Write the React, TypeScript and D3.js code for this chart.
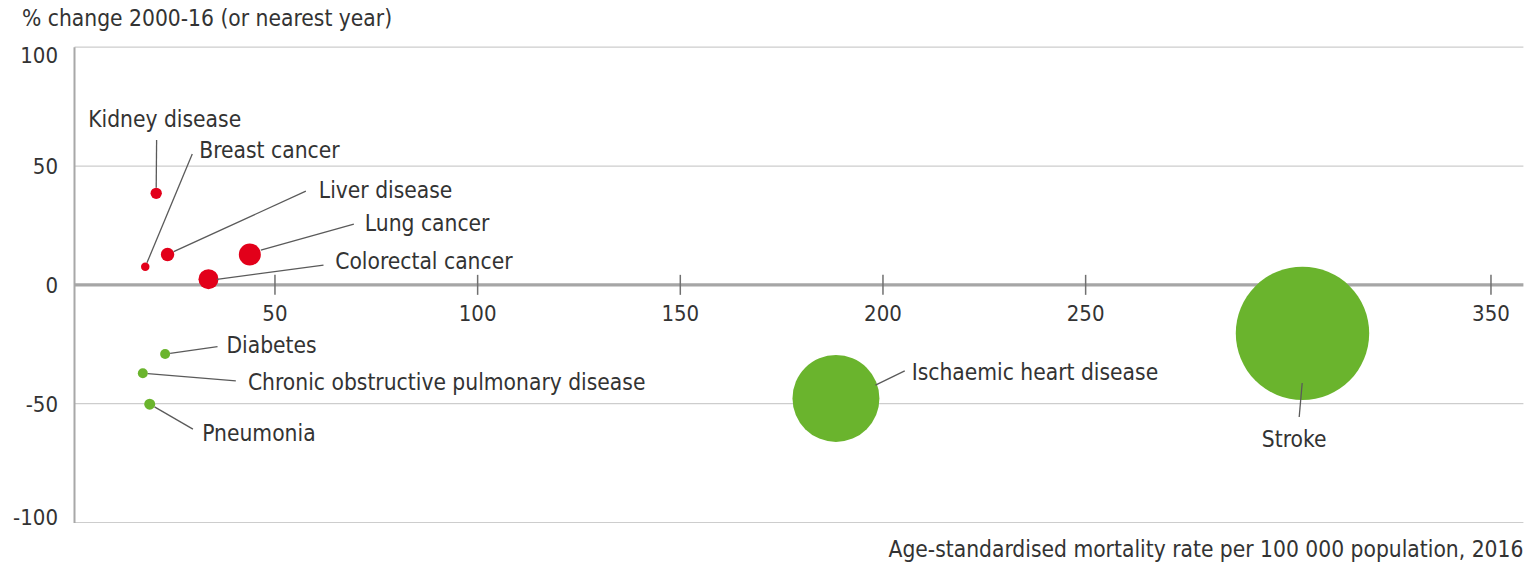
import React from "react";
import * as d3 from "d3";

// ---- Data ----
const causes = [
  "Kidney disease",
  "Breast cancer",
  "Liver disease",
  "Lung cancer",
  "Colorectal cancer",
  "Diabetes",
  "Chronic obstructive pulmonary disease",
  "Pneumonia",
  "Ischaemic heart disease",
  "Stroke",
];
const mortalityRate2016 = [20.7, 18.0, 23.5, 43.8, 33.6, 22.9, 17.4, 19.1, 188.4, 303.5];
const pctChange2000_16 = [38.5, 7.6, 12.8, 12.8, 2.4, -29.1, -37.2, -50.2, -47.8, -20.4];
const bubbleSize = [32, 18, 45, 121, 100, 25, 25, 30, 1890, 4450];
const xTicks = [50, 100, 150, 200, 250, 300, 350];
const yTicks = [100, 50, 0, -50, -100];
const yTitle = "% change 2000-16 (or nearest year)";
const xTitle = "Age-standardised mortality rate per 100 000 population, 2016";

// ---- Layout (annotation placement, px offsets from bubble centre) ----
const annot = [
  { s: [0, -5.7], e: [0.4, -53.3], t: [-68, -66.6], anchor: "start" },
  { s: [1.7, -4], e: [47, -112.7], t: [54, -108.4], anchor: "start" },
  { s: [6.1, -2.8], e: [138.3, -63.3], t: [151.3, -56], anchor: "start" },
  { s: [11, -4.3], e: [104, -30.3], t: [115, -23.3], anchor: "start" },
  { s: [8.4, 0.3], e: [115, -14], t: [126.7, -9.7], anchor: "start" },
  { s: [5, -0.7], e: [52.4, -7.3], t: [61.3, -1.3], anchor: "start" },
  { s: [5, 0.4], e: [93, 7.7], t: [105.1, 16.7], anchor: "start" },
  { s: [4.8, 2.75], e: [43.2, 25], t: [52.5, 37], anchor: "start" },
  { s: [39.5, -13.3], e: [68.8, -27.6], t: [75.7, -18.3], anchor: "start" },
  { s: [-0.3, 49.7], e: [-3.3, 83.7], t: [-8.3, 113.4], anchor: "middle" },
];

const W = 1533;
const H = 564;
const FONT = "'DejaVu Sans Condensed', 'DejaVu Sans', sans-serif";
const FS = 22.6;
const TEXT = "#333333";
const RED = "#e2001a";
const GREEN = "#6ab42d";

export default function App() {
  const x = d3.scaleLinear().domain([0, 358]).range([72.3, 1523.4]);
  const y = d3.scaleLinear().domain([-100, 100]).range([522.5, 47.2]);
  const r = d3.scaleSqrt().domain([0, 4450]).range([0, 66.7]);
  const x0 = 74.5;
  const xEnd = x.range()[1];

  const pts = causes.map((c, i) => ({
    name: c,
    cx: x(mortalityRate2016[i]),
    cy: y(pctChange2000_16[i]),
    r: r(bubbleSize[i]),
    color: pctChange2000_16[i] >= 0 ? RED : GREEN,
    a: annot[i],
  }));

  return (
    <svg
      width={W}
      height={H}
      style={{ position: "absolute", left: 0, top: 0, display: "block", background: "#fff" }}
      fontFamily={FONT}
      fontStretch="condensed"
    >
      <text x={22} y={26} fontSize={FS} fill={TEXT}>
        {yTitle}
      </text>

      {/* gridlines */}
      {yTicks
        .filter((t) => t !== 0)
        .map((t) => (
          <line key={"g" + t} x1={x0} x2={xEnd} y1={y(t)} y2={y(t)} stroke="#cdcdcd" strokeWidth={1.2} />
        ))}
      {/* y axis line */}
      <line x1={x0} x2={x0} y1={y(100)} y2={y(-100) + 0.5} stroke="#a8a8a8" strokeWidth={2} />

      {/* y tick labels */}
      {yTicks.map((t) => {
        const shift = t === 100 ? 8 : t === -100 ? -5.5 : 0;
        return (
          <text key={"yl" + t} x={58} y={y(t) + shift + 8} textAnchor="end" fontSize={22} fill={TEXT}>
            {t}
          </text>
        );
      })}

      {/* zero line */}
      <line x1={x0} x2={xEnd} y1={y(0)} y2={y(0)} stroke="#a6a6a6" strokeWidth={3.2} />
      {xTicks.map((t) => (
        <g key={"xt" + t}>
          <line x1={x(t)} x2={x(t)} y1={y(0) - 10} y2={y(0) + 10} stroke="#707070" strokeWidth={1.5} />
          <text x={x(t)} y={y(0) + 36} textAnchor="middle" fontSize={22} fill={TEXT}>
            {t}
          </text>
        </g>
      ))}

      {/* bubbles */}
      {pts.map((p) => (
        <circle key={"c" + p.name} cx={p.cx} cy={p.cy} r={p.r} fill={p.color} />
      ))}

      {/* annotations */}
      {pts.map((p) => (
        <g key={"a" + p.name}>
          <line
            x1={p.cx + p.a.s[0]}
            y1={p.cy + p.a.s[1]}
            x2={p.cx + p.a.e[0]}
            y2={p.cy + p.a.e[1]}
            stroke="#5a5a5a"
            strokeWidth={1.3}
          />
          <text
            x={p.cx + p.a.t[0]}
            y={p.cy + p.a.t[1]}
            textAnchor={p.a.anchor}
            fontSize={FS}
            fill={TEXT}
          >
            {p.name}
          </text>
        </g>
      ))}

      <text x={xEnd} y={557} textAnchor="end" fontSize={FS} fill={TEXT}>
        {xTitle}
      </text>
    </svg>
  );
}
